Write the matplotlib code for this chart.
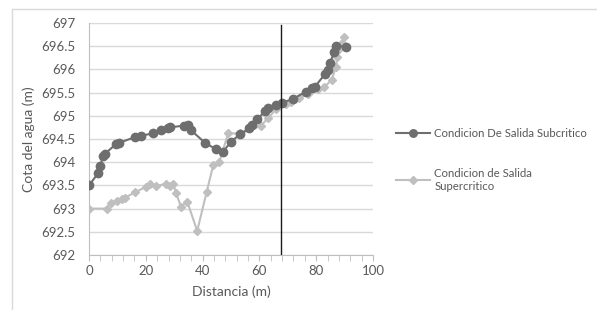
import matplotlib.pyplot as plt
from matplotlib.patches import Rectangle
from matplotlib.ticker import MultipleLocator

plt.rcParams['font.family'] = ['Lato', 'DejaVu Sans']

# Condicion De Salida Subcritico
x_sub = [0, 3.3, 3.9, 5.0, 5.6, 9.5, 10.7, 16.2, 18.3, 22.4, 25.4, 27.7, 28.5, 33.5, 34.7,
         35.9, 40.8, 44.7, 47.1, 49.9, 53.2, 56.4, 57.3, 59.3, 62.0, 63.1, 65.8, 67.8,
         71.7, 76.4, 78.4, 79.6, 83.1, 84.0, 84.9, 86.3, 87.0, 90.5]
y_sub = [693.5, 693.77, 693.92, 694.13, 694.18, 694.39, 694.42, 694.54, 694.57, 694.62,
         694.69, 694.73, 694.75, 694.79, 694.8, 694.69, 694.42, 694.28, 694.21, 694.44,
         694.6, 694.73, 694.8, 694.93, 695.1, 695.16, 695.23, 695.28, 695.36, 695.52,
         695.59, 695.63, 695.9, 695.99, 696.14, 696.38, 696.5, 696.49]

# Condicion de Salida Supercritico
x_sup = [0, 6.2, 7.6, 9.7, 11.5, 12.5, 16.2, 20.1, 21.5, 23.6, 27.1, 28.5, 29.7, 30.6,
         32.4, 34.6, 38.1, 41.4, 43.8, 45.9, 49.0, 53.2, 60.4, 63.1, 65.8, 69.4, 71.3,
         74.0, 77.2, 80.7, 82.7, 85.4, 87.0, 87.4, 88.1, 89.0, 89.8]
y_sup = [693.0, 693.0, 693.13, 693.17, 693.2, 693.23, 693.35, 693.47, 693.53, 693.49,
         693.53, 693.49, 693.53, 693.34, 693.04, 693.15, 692.52, 693.35, 693.95, 694.01,
         694.62, 694.62, 694.78, 694.95, 695.14, 695.25, 695.3, 695.38, 695.48, 695.57,
         695.61, 695.77, 696.06, 696.27, 696.43, 696.56, 696.69]

x_corte = 67.6

fig = plt.figure(figsize=(5.97, 3.10), dpi=100)
fig.patches.append(Rectangle((12/597, -0.1), 1, 1.1 - 9/310, transform=fig.transFigure,
                             fill=False, edgecolor='#d9d9d9', linewidth=1))
ax = fig.add_axes([89/597, 1-255/310, 284/597, 232/310])

ax.plot(x_sup, y_sup, color='#bfbfbf', marker='D', markersize=4.5, linewidth=1.5,
        label='Condicion de Salida\nSupercritico', zorder=3)
ax.plot(x_sub, y_sub, color='#6e6e6e', marker='o', markersize=6, linewidth=1.5,
        label='Condicion De Salida Subcritico', zorder=4)
ax.axvline(x_corte, ymin=0, ymax=0.99, color='#1a1a1a', linewidth=1, zorder=5)

ax.set_xlim(0, 100)
ax.set_ylim(692, 697)
ax.xaxis.set_major_locator(MultipleLocator(20))
ax.xaxis.set_minor_locator(MultipleLocator(4))
ax.yaxis.set_major_locator(MultipleLocator(0.5))
ax.set_yticklabels([f'{v:g}' for v in ax.get_yticks()])
ax.grid(axis='y', color='#d9d9d9', linewidth=1)
ax.set_axisbelow(True)
for s in ['top', 'right']:
    ax.spines[s].set_visible(False)
for s in ['left', 'bottom']:
    ax.spines[s].set_color('#bfbfbf')
ax.tick_params(axis='x', which='both', colors='#bfbfbf', labelcolor='#595959', labelsize=9.5,
               length=4, direction='out')
ax.tick_params(axis='y', length=0, labelcolor='#595959', labelsize=9.5, pad=10)
ax.set_xlabel('Distancia (m)', color='#595959', fontsize=10, labelpad=6)
ax.set_ylabel('Cota del agua (m)', color='#595959', fontsize=10, labelpad=4)

handles, labels = ax.get_legend_handles_labels()
fig.legend(handles[::-1], labels[::-1], loc='upper left', bbox_to_anchor=(386/597, 1-118/310),
           frameon=False, fontsize=8.2, labelcolor='#595959', handlelength=3.0,
           labelspacing=2.5, handletextpad=0.35, markerscale=0.9)

fig.savefig('out.png', dpi=100)
